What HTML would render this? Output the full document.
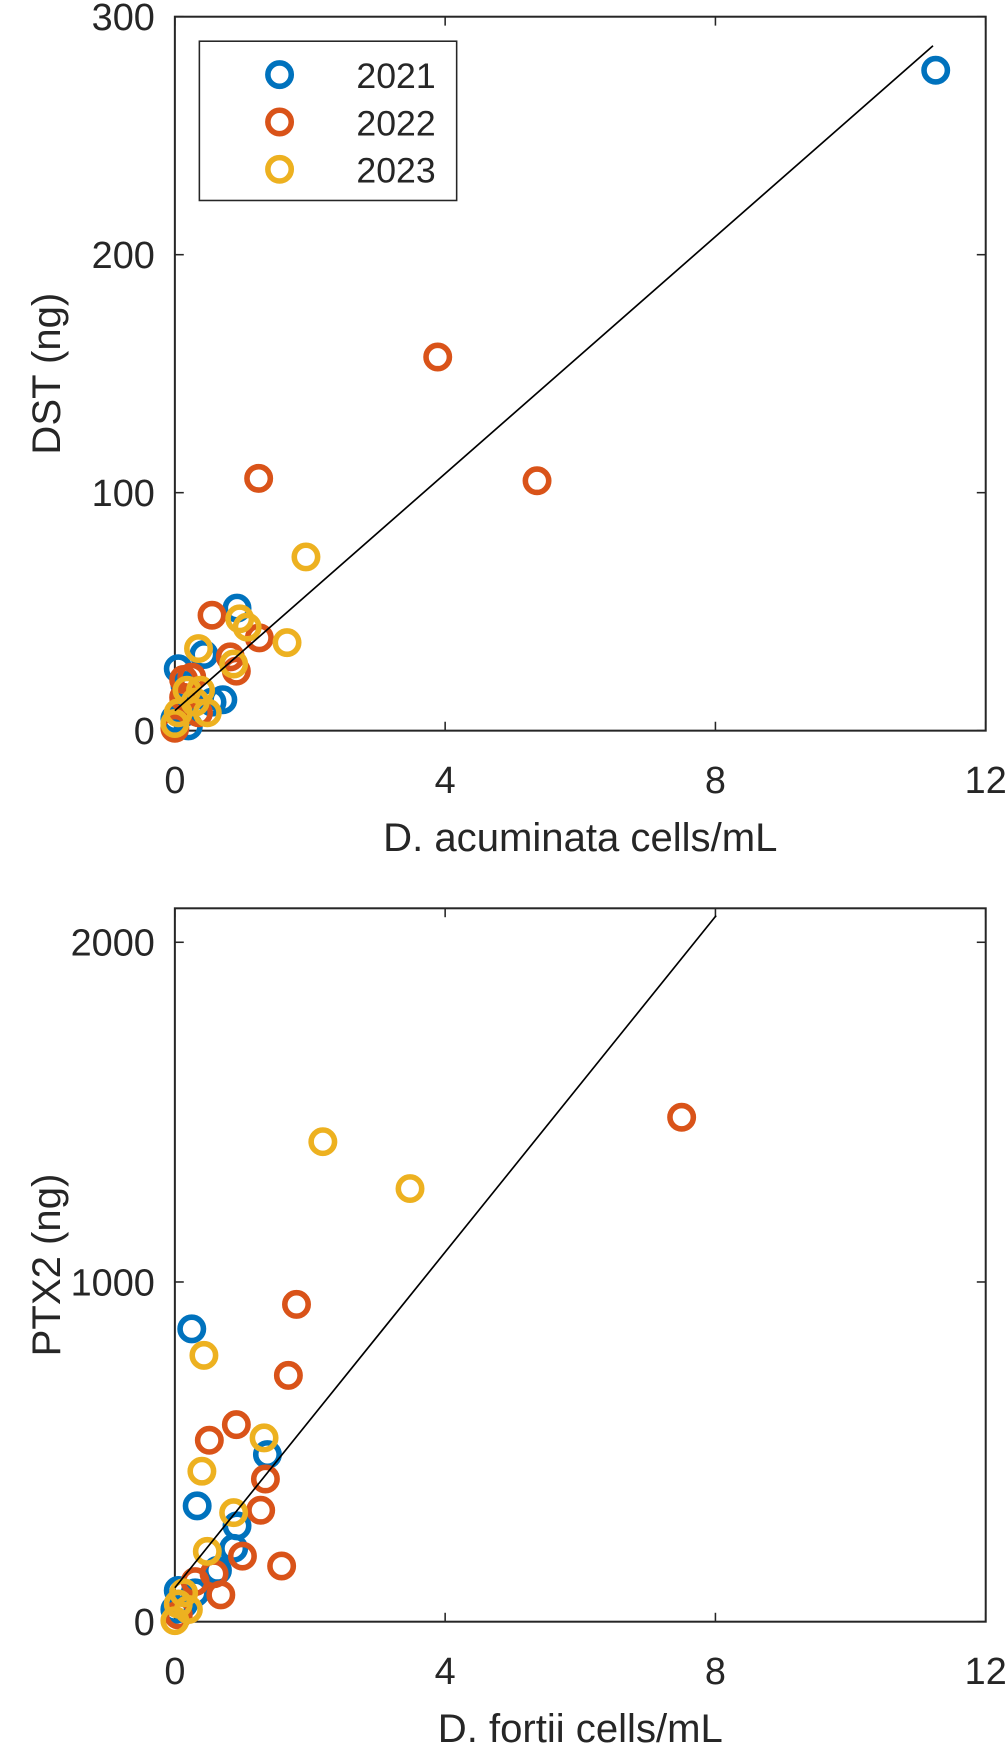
<!DOCTYPE html>
<html><head><meta charset="utf-8"><style>
body{margin:0;background:#fff;}
svg text{font-family:"Liberation Sans",sans-serif;fill:#262626;}
</style></head><body>
<svg width="1008" height="1744" xmlns="http://www.w3.org/2000/svg"><g id="s" transform="scale(1.1138)"></g></svg>
<script>
const years=['2021','2022','2023'];
const colors=['#0072BD','#D95319','#EDB120'];
const topX2021=[11.26,0.92,0.43,0.05,0.71,0.13,0,0.2,0.55,0.15];
const topY2021=[277.5,51.5,32,26,13,7.5,5,2,12,19];
const topX2022=[3.89,5.36,1.24,0.55,1.25,0.82,0.91,0.13,0.25,0.35,0,0.13];
const topY2022=[157,105,106,48.5,39,31,25,21.5,22.5,7.5,1,14];
const topX2023=[1.94,1.66,0.96,1.07,0.35,0.87,0.05,0.18,0.38,0.3,0,0.48];
const topY2023=[73,37,47,43.5,34.5,28,7.5,17,17,12,3,7.5];
const topFit=[8.4,24.9,11.22]; // intercept, slope, xmax
const botX2021=[0.25,0.33,1.37,0.92,0.87,0.63,0.05,0.3,0,0.13];
const botY2021=[862,341,492,282,216,151,92,85,36,52];
const botX2022=[7.5,1.8,1.68,0.91,0.51,1.34,1.27,1.0,1.58,0.68,0.58,0.05,0.3];
const botY2022=[1485,934,725,580,534,420,328,193,164,79,141,20,118];
const botX2023=[2.19,3.48,0.43,1.32,0.4,0.87,0.48,0,0.13,0.05,0.2];
const botY2023=[1413,1275,784,541,443,321,207,3,85,52,36];
const botFit=[100,247,8.01];
const topXTicks=[0,4,8,12], topYTicks=[0,100,200,300];
const botXTicks=[0,4,8,12], botYTicks=[0,1000,2000];
const NS='http://www.w3.org/2000/svg';
const svg=document.getElementById('s');
function el(t,a,p){const e=document.createElementNS(NS,t);for(const k in a)e.setAttribute(k,a[k]);(p||svg).appendChild(e);return e;}
function panel(o){
 const g=el('g',{});
 
 
 const sx=v=>o.x0+(v-o.xmin)/(o.xmax-o.xmin)*(o.x1-o.x0);
 const sy=v=>o.y0-(v-o.ymin)/(o.ymax-o.ymin)*(o.y0-o.y1);
 const box=el('rect',{x:o.x0,y:o.y1,width:o.x1-o.x0,height:o.y0-o.y1,fill:'none',stroke:'#262626','stroke-width':1.8},g);
 
 
 o.xt.forEach(t=>{const X=sx(t);
  el('line',{x1:X,y1:o.y0,x2:X,y2:o.y0-8,stroke:'#262626','stroke-width':1.4},g);
  el('line',{x1:X,y1:o.y1,x2:X,y2:o.y1+8,stroke:'#262626','stroke-width':1.4},g);
  const tx=el('text',{x:X,y:o.y0+56,'font-size':34,'text-anchor':'middle'},g);tx.textContent=t;
  
  });
 o.yt.forEach(t=>{const Y=sy(t);
  el('line',{x1:o.x0,y1:Y,x2:o.x0+8,y2:Y,stroke:'#262626','stroke-width':1.4},g);
  el('line',{x1:o.x1,y1:Y,x2:o.x1-8,y2:Y,stroke:'#262626','stroke-width':1.4},g);
  const tx=el('text',{x:o.x0-18,y:Y+12,'font-size':34,'text-anchor':'end'},g);tx.textContent=t;
  
  });
 const xl=el('text',{x:(o.x0+o.x1)/2,y:o.y0+108,'font-size':36,'text-anchor':'middle'},g);xl.textContent=o.xlabel;
 
 
 const yc=(o.y0+o.y1)/2;
 const yl=el('text',{x:54,y:yc,'font-size':36,'text-anchor':'middle',transform:`rotate(-90 54 ${yc})`},g);yl.textContent=o.ylabel;
 
 
 o.series.forEach((s,i)=>{s[0].forEach((xv,j)=>{
  const c=el('circle',{cx:sx(xv),cy:sy(s[1][j]),r:10.5,fill:'none',stroke:colors[i],'stroke-width':5},g);
  
  });});
 const f=o.fit;
 const ln=el('line',{x1:sx(0),y1:sy(f[0]),x2:sx(f[2]),y2:sy(f[0]+f[1]*f[2]),stroke:'#000','stroke-width':1.5},g);
 
 
}
panel({name:'dst-panel',x0:157,x1:885,y0:656,y1:15,xmin:0,xmax:12,ymin:0,ymax:300,xt:topXTicks,yt:topYTicks,
 xlabel:'D. acuminata cells/mL',ylabel:'DST (ng)',fit:topFit,
 series:[[topX2021,topY2021],[topX2022,topY2022],[topX2023,topY2023]]});
panel({name:'ptx2-panel',x0:157,x1:885,y0:1456,y1:815.5,xmin:0,xmax:12,ymin:0,ymax:2100,xt:botXTicks,yt:botYTicks,
 xlabel:'D. fortii cells/mL',ylabel:'PTX2 (ng)',fit:botFit,
 series:[[botX2021,botY2021],[botX2022,botY2022],[botX2023,botY2023]]});
const lg=el('g',{});


el('rect',{x:179,y:37,width:231,height:143,fill:'#fff',stroke:'#262626','stroke-width':1.4},lg);
years.forEach((y,i)=>{const Y=67+i*42.5;
 const c=el('circle',{cx:251,cy:Y,r:10.5,fill:'none',stroke:colors[i],'stroke-width':5},lg);
 
 
 const t=el('text',{x:320,y:Y+12,'font-size':32},lg);t.textContent=y;
 
 });
</script>
</body></html>
